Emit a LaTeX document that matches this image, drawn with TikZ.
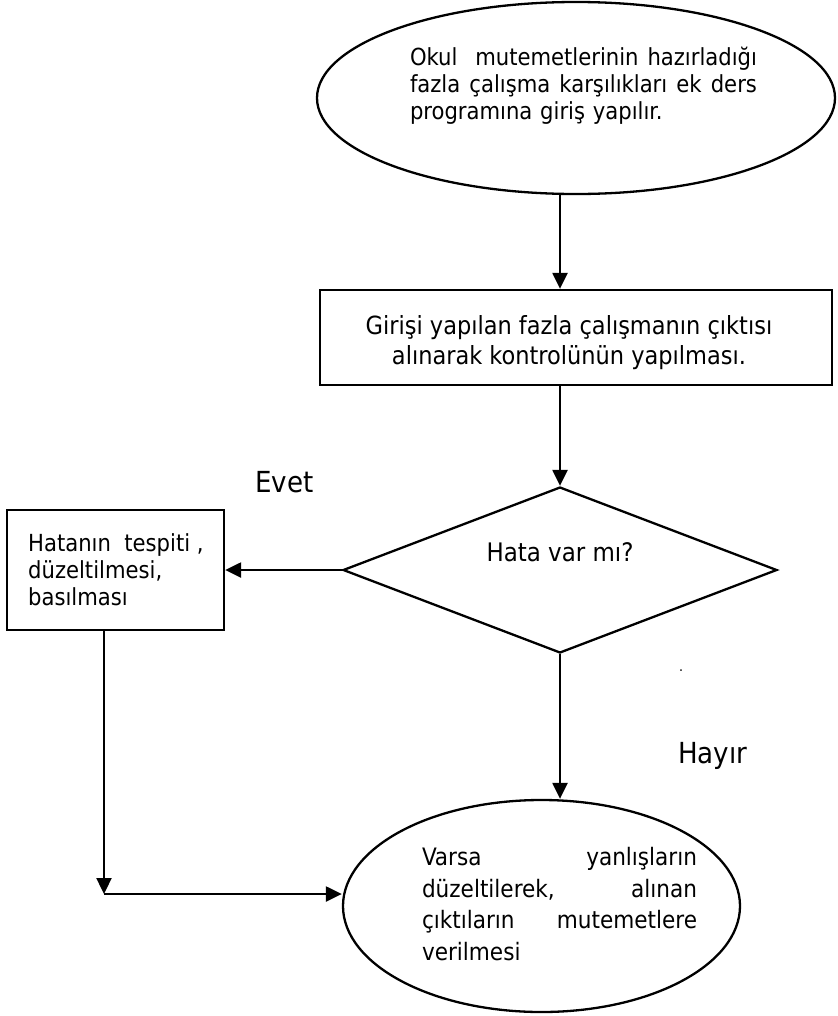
\documentclass[tikz,border=0pt]{standalone}
\usepackage{fontspec}
\setmainfont{DejaVu Sans Condensed}
\usetikzlibrary{shapes.geometric,arrows.meta}
\hbadness=10000
\newcommand\fullline[2]{\leavevmode\hbox to #1{#2}}
\begin{document}
\begin{tikzpicture}[x=1bp,y=-1bp,
  shape line/.style={draw=black, line width=2.3bp},
  flow/.style={draw=black, line width=2.3bp, -{Triangle[length=16bp,width=15bp]}},
  body/.style={font=\fontsize{24bp}{27bp}\selectfont, inner sep=0pt},
  answer/.style={font=\fontsize{29bp}{30bp}\selectfont, inner sep=0pt},
]
\useasboundingbox (0,0) rectangle (838,1016);

% start: data entry
\node[ellipse, shape line, minimum width=518bp, minimum height=192bp, inner sep=0pt] (start) at (576,98) {};
\node[body, align=left, text width=347bp, font=\fontsize{23.5bp}{27bp}\selectfont] (starttext) at (583.5,86)
  {\fullline{347bp}{Okul\hfill\hfill mutemetlerinin\hfill hazırladığı}\\
   \fullline{347bp}{fazla\hfill çalışma\hfill karşılıkları\hfill ek\hfill ders}\\
   programına giriş yapılır.};

% print-out and check
\node[rectangle, shape line, minimum width=512bp, minimum height=95bp, inner sep=0pt] (check) at (576,337.5) {};
\node[body, align=center, font=\fontsize{25bp}{30bp}\selectfont] (checktext) at (569,343)
  {Girişi yapılan fazla çalışmanın çıktısı\\alınarak kontrolünün yapılması.};

% decision
\node[diamond, shape line, minimum width=434bp, minimum height=166bp, inner sep=0pt] (decide) at (560,570) {};
\node[body, font=\fontsize{25.5bp}{27bp}\selectfont] (decidetext) at (560,552) {Hata var mı?};

% correction
\node[rectangle, shape line, minimum width=217bp, minimum height=120bp, inner sep=0pt] (fix) at (115.5,570) {};
\node[body, align=left, anchor=west, font=\fontsize{23.5bp}{27bp}\selectfont] (fixtext) at (28,570)
  {Hatanın~~tespiti ,\\düzeltilmesi,\\basılması};

% end: hand over to the officers
\node[ellipse, shape line, minimum width=397bp, minimum height=212bp, inner sep=0pt] (finish) at (541.5,906) {};
\node[body, align=left, text width=275bp, font=\fontsize{24bp}{31.5bp}\selectfont] (finishtext) at (559.5,904)
  {\fullline{275bp}{Varsa\hfill yanlışların}\\
   \fullline{275bp}{düzeltilerek,\hfill alınan}\\
   \fullline{275bp}{çıktıların\hfill mutemetlere}\\
   verilmesi};

% branch labels
\node[answer, anchor=base west] (yes) at (255,492) {Evet};
\node[answer, anchor=base west] (no) at (678,763) {Hayır};
\node[font=\fontsize{14bp}{14bp}\selectfont, inner sep=0pt, anchor=base] (dot) at (681,671) {.};

% connectors
\coordinate (corner) at (104,894);
\draw[flow] (decide.north |- start.south) -- (decide.north |- check.north);
\draw[flow] (decide.north |- check.south) -- (decide.north);
\draw[flow] (decide.west) -- (fix.east |- decide.west);
\draw[flow] (decide.south) -- (decide.south |- finish.north);
\draw[flow] (fix.south -| corner) -- (corner);
\draw[flow] (corner) -- (corner -| finish.west);
\end{tikzpicture}
\end{document}
